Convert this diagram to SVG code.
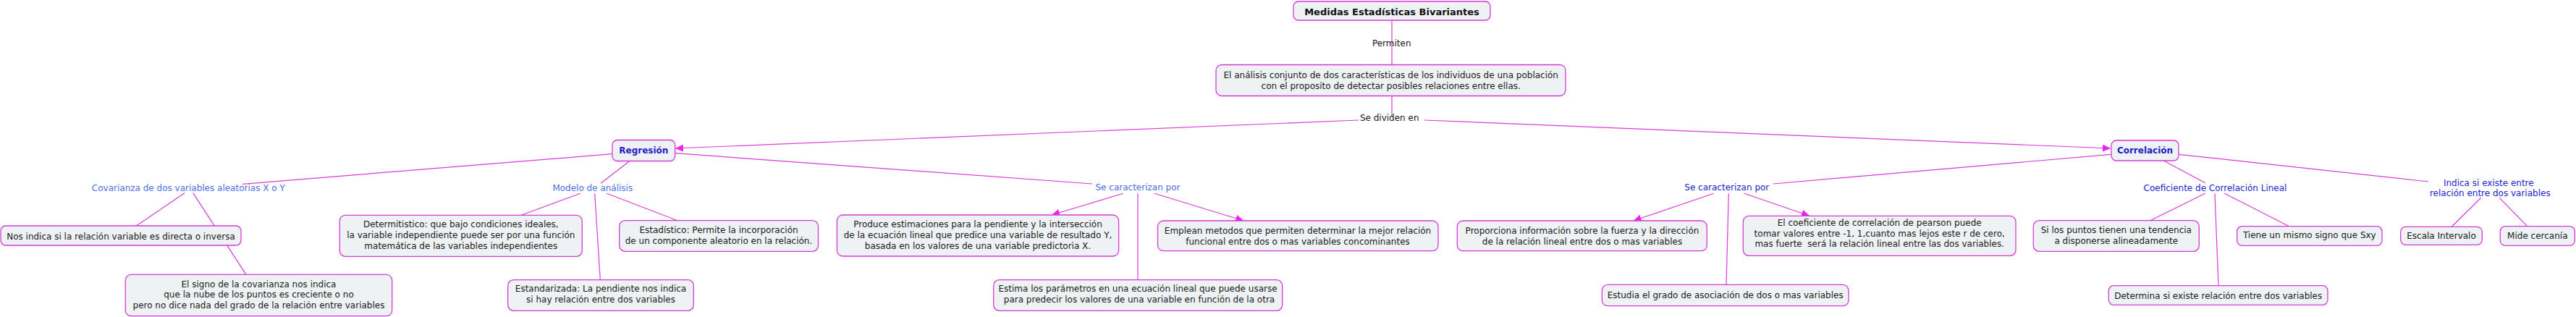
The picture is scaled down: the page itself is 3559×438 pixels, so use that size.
<svg xmlns="http://www.w3.org/2000/svg" width="3559" height="438" viewBox="0 0 3559 438">
<style>
.box{fill:#eef2f5;stroke:#d43bd4;stroke-width:1.3}
.t{font-family:"DejaVu Sans",Verdana,sans-serif;font-size:12px;fill:#1a1a1a;text-anchor:middle}
.ttl{font-weight:bold;font-size:13px;fill:#111}
.b{font-weight:bold;fill:#1c1cc4}
.ll{fill:#4d6fe0}
.lr{fill:#2323c8}
.c{stroke:#d63cd6;stroke-width:1.2;fill:none}
.a{marker-end:url(#arr)}
</style>
<defs>
<marker id="arr" markerUnits="userSpaceOnUse" markerWidth="12" markerHeight="10" refX="11" refY="5" orient="auto">
<path d="M0,0 L11,5 L0,10 Z" fill="#ee22ee"/>
</marker>
</defs>
<rect width="3559" height="438" fill="#ffffff"/>
<g id="connectors">
<line class="c" x1="1923" y1="28" x2="1923" y2="89.5"/>
<line class="c" x1="1923" y1="132.5" x2="1923" y2="160"/>
<line class="c a" x1="1877" y1="166" x2="933" y2="205"/>
<line class="c a" x1="1968" y1="166" x2="2916" y2="205"/>
<line class="c" x1="846" y1="212.7" x2="335" y2="254.3"/>
<line class="c" x1="869.3" y1="223" x2="830" y2="253.3"/>
<line class="c" x1="933" y1="211.7" x2="1508.8" y2="254"/>
<line class="c" x1="255" y1="266.7" x2="188.3" y2="312"/>
<line class="c" x1="266.7" y1="266.7" x2="340" y2="379.3"/>
<line class="c" x1="801.7" y1="267.3" x2="720" y2="297.3"/>
<line class="c" x1="821.7" y1="267.3" x2="829.3" y2="386.7"/>
<line class="c" x1="838.3" y1="267.3" x2="936" y2="304.7"/>
<line class="c a" x1="1551.8" y1="267.3" x2="1453" y2="297"/>
<line class="c" x1="1572" y1="267.3" x2="1572" y2="386.7"/>
<line class="c a" x1="1595" y1="267.3" x2="1718.3" y2="305"/>
<line class="c" x1="2916.7" y1="213.3" x2="2450" y2="254"/>
<line class="c a" x1="2367.7" y1="267.3" x2="2256.7" y2="305"/>
<line class="c" x1="2388.3" y1="267.3" x2="2385" y2="393.3"/>
<line class="c a" x1="2410" y1="267.3" x2="2500" y2="298.3"/>
<line class="c" x1="2989.3" y1="222" x2="3046.7" y2="252.7"/>
<line class="c" x1="3046.7" y1="267.3" x2="2970.7" y2="304.7"/>
<line class="c" x1="3060" y1="267.3" x2="3065" y2="394.7"/>
<line class="c" x1="3073.3" y1="267.3" x2="3162.7" y2="312.7"/>
<line class="c" x1="3010" y1="213.3" x2="3355" y2="251"/>
<line class="c" x1="3427.7" y1="273.3" x2="3387.3" y2="313.3"/>
<line class="c" x1="3453.3" y1="273.3" x2="3491.7" y2="312.7"/>
</g>
<g id="labels">
<text class="t" x="1922.7" y="64">Permiten</text>
<text class="t" x="1919.7" y="166.7">Se dividen en</text>
<text class="t ll" x="260.3" y="264.3">Covarianza de dos variables aleatorias X o Y</text>
<text class="t ll" x="818.8" y="264">Modelo de análisis</text>
<text class="t ll" x="1572" y="262.7">Se caracterizan por</text>
<text class="t lr" x="2385.8" y="262.7">Se caracterizan por</text>
<text class="t lr" x="3060.5" y="264">Coeficiente de Correlación Lineal</text>
<text class="t lr" x="3438.3" y="256.7">Indica si existe entre</text>
<text class="t lr" x="3440.3" y="271">relación entre dos variables</text>
</g>
<g id="n-title"><rect class="box" x="1787" y="2" width="272" height="26" rx="7"/><text class="t ttl" x="1923" y="20.5">Medidas Estadísticas Bivariantes</text></g>
<g id="n-analisis"><rect class="box" x="1680" y="89.5" width="483" height="43" rx="8"/><text class="t" x="1921.7" y="108.3">El análisis conjunto de dos características de los individuos de una población</text><text class="t" x="1921.7" y="122.7">con el proposito de detectar posibles relaciones entre ellas.</text></g>
<g id="n-regresion"><rect class="box" x="846" y="193.5" width="86.7" height="29" rx="7"/><text class="t b" x="889.3" y="212">Regresión</text></g>
<g id="n-correlacion"><rect class="box" x="2917" y="194" width="93" height="28" rx="7"/><text class="t b" x="2963.5" y="212.3">Correlación</text></g>
<g id="n-nosindica"><rect class="box" x="1" y="312" width="332" height="27" rx="7"/><text class="t" x="167" y="330.5">Nos indica si la relación variable es directa o inversa</text></g>
<g id="n-signo"><rect class="box" x="173.3" y="379.3" width="368.4" height="57.4" rx="8"/><text class="t" x="357.5" y="396.7">El signo de la covarianza nos indica</text><text class="t" x="357.5" y="411">que la nube de los puntos es creciente o no</text><text class="t" x="357.5" y="425.7">pero no dice nada del grado de la relación entre variables</text></g>
<g id="n-determitistico"><rect class="box" x="469.3" y="297.3" width="335" height="57" rx="8"/><text class="t" x="636.8" y="314.3">Determitistico: que bajo condiciones ideales,</text><text class="t" x="636.8" y="329">la variable independiente puede ser por una función</text><text class="t" x="636.8" y="344">matemática de las variables independientes</text></g>
<g id="n-estadistico"><rect class="box" x="855.7" y="304.7" width="274.8" height="42.6" rx="8"/><text class="t" x="993" y="321.7">Estadístico: Permite la incorporación</text><text class="t" x="993" y="336.7">de un componente aleatorio en la relación.</text></g>
<g id="n-estandarizada"><rect class="box" x="701.7" y="386.7" width="256.6" height="42.6" rx="8"/><text class="t" x="830" y="403.3">Estandarizada: La pendiente nos indica</text><text class="t" x="830" y="417.7">si hay relación entre dos variables</text></g>
<g id="n-produce"><rect class="box" x="1156.4" y="297" width="389.2" height="57" rx="8"/><text class="t" x="1351" y="314.3">Produce estimaciones para la pendiente y la intersección</text><text class="t" x="1351" y="329">de la ecuación lineal que predice una variable de resultado Y,</text><text class="t" x="1351" y="344">basada en los valores de una variable predictoria X.</text></g>
<g id="n-emplean"><rect class="box" x="1599.5" y="305" width="387.5" height="41.7" rx="8"/><text class="t" x="1793" y="323.3">Emplean metodos que permiten determinar la mejor relación</text><text class="t" x="1793" y="337.7">funcional entre dos o mas variables concominantes</text></g>
<g id="n-estima"><rect class="box" x="1372.7" y="386.7" width="399" height="42.6" rx="8"/><text class="t" x="1572" y="403.3">Estima los parámetros en una ecuación lineal que puede usarse</text><text class="t" x="1574" y="417.7">para predecir los valores de una variable en función de la otra</text></g>
<g id="n-proporciona"><rect class="box" x="2013.3" y="305" width="345" height="41.7" rx="8"/><text class="t" x="2186" y="323.3">Proporciona información sobre la fuerza y la dirección</text><text class="t" x="2186" y="337.7">de la relación lineal entre dos o mas variables</text></g>
<g id="n-coeficiente"><rect class="box" x="2408.3" y="298.3" width="376.7" height="55" rx="8"/><text class="t" x="2596.7" y="311.7">El coeficiente de correlación de pearson puede</text><text class="t" x="2596.7" y="326.7">tomar valores entre -1, 1,cuanto mas lejos este r de cero,</text><text class="t" x="2596.7" y="341" style="white-space:pre">mas fuerte  será la relación lineal entre las dos variables.</text></g>
<g id="n-estudia"><rect class="box" x="2213.3" y="393.3" width="340.7" height="29.4" rx="8"/><text class="t" x="2383.7" y="411.7">Estudia el grado de asociación de dos o mas variables</text></g>
<g id="n-silospuntos"><rect class="box" x="2809.3" y="304.7" width="229" height="42.6" rx="8"/><text class="t" x="2923.8" y="321.7">Si los puntos tienen una tendencia</text><text class="t" x="2923.8" y="336.7">a disponerse alineadamente</text></g>
<g id="n-tiene"><rect class="box" x="3090.7" y="312.7" width="200.3" height="26.6" rx="7"/><text class="t" x="3190.8" y="329.3">Tiene un mismo signo que Sxy</text></g>
<g id="n-determina"><rect class="box" x="2913.3" y="394.7" width="302.7" height="26.6" rx="7"/><text class="t" x="3064.7" y="413.3">Determina si existe relación entre dos variables</text></g>
<g id="n-escala"><rect class="box" x="3316.7" y="313.3" width="112.6" height="25" rx="7"/><text class="t" x="3373" y="330">Escala Intervalo</text></g>
<g id="n-mide"><rect class="box" x="3454.3" y="312.7" width="103" height="26.6" rx="7"/><text class="t" x="3505.8" y="330">Mide cercanía</text></g>
</svg>
